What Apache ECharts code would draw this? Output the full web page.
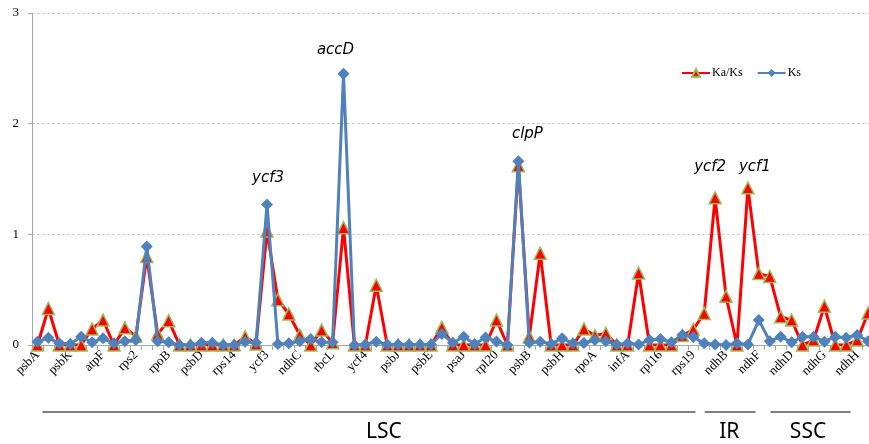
<!DOCTYPE html>
<html><head><meta charset="utf-8">
<script src="https://cdn.jsdelivr.net/npm/echarts@6/dist/echarts.min.js"></script>
<style>html,body{margin:0;padding:0;background:#fff}#c{width:869px;height:444px}</style>
</head><body><div id="c"></div>
<script>
var genes = ['psbA','matK','rps16','psbK','psbI','atpA','atpF','atpH','atpI','rps2','rpoC2','rpoC1','rpoB','petN','psbM','psbD','psbC','psbZ','rps14','psaB','psaA','ycf3','ndhJ','ndhK','ndhC','atpE','atpB','rbcL','accD','psaI','ycf4','cemA','petA','psbJ','psbL','psbF','psbE','petL','petG','psaJ','rpl33','rps18','rpl20','rps12','clpP','psbB','psbT','psbN','psbH','petB','petD','rpoA','rps11','rpl36','infA','rps8','rpl14','rpl16','rps3','rpl22','rps19','rpl2','ycf2','ndhB','rps7','ycf1','ndhF','rpl32','ccsA','ndhD','psaC','ndhE','ndhG','ndhI','ndhA','ndhH','rps15'];
var kaks = [0,0.33,0,0,0,0.145,0.225,0,0.155,0.08,0.80,0.10,0.22,0,0,0,0,0,0,0.075,0.01,1.03,0.41,0.28,0.09,0,0.135,0.02,1.06,0,0,0.54,0,0,0,0,0,0.16,0,0,0,0,0.225,0,1.62,0.075,0.83,0,0,0,0.145,0.085,0.105,0,0,0.65,0,0,0,0.085,0.14,0.285,1.33,0.44,0,1.42,0.645,0.62,0.255,0.225,0,0.045,0.35,0,0,0.045,0.29];
var ks = [0.03,0.065,0.015,0.01,0.075,0.025,0.06,0.015,0.035,0.045,0.89,0.035,0.025,0,0,0.02,0.02,0,0,0.03,0.02,1.27,0.01,0.015,0.035,0.055,0.025,0.025,2.45,0,0.005,0.03,0.005,0.005,0.005,0.005,0.005,0.10,0.02,0.075,0.01,0.068,0.032,0,1.66,0.02,0.03,0.01,0.06,0.015,0.018,0.045,0.035,0.005,0.015,0.005,0.045,0.055,0.025,0.09,0.072,0.015,0.005,0,0.015,0.005,0.225,0.035,0.075,0.025,0.075,0.075,0.03,0.075,0.066,0.09,0.035];
var yTicks = [0,1,2,3];
var highlighted = [['ycf3',21],['accD',28],['clpP',44],['ycf2',62],['ycf1',65]];
// region name, span start/end (category positions), label centre (category position)
var regions = [['LSC',0.45,60.2,31.7],['IR',61.05,65.7,63.3],['SSC',67.07,74.4,70.5]];

var chart = echarts.init(document.getElementById('c'));
var serif = '"Liberation Serif", "Times New Roman", serif';
chart.setOption({
  animation:false,
  backgroundColor:'#fff',
  grid:{left:32, top:13, height:332, width:841.6, outerBoundsMode:'none', containLabel:false},
  legend:{left:676, top:62, itemWidth:28, itemHeight:10, itemGap:14,
    textStyle:{fontFamily:serif, fontSize:12, color:'#000', padding:[0,0,0,-3]},
    data:['Ka/Ks','Ks']},
  xAxis:{type:'category', data:genes, boundaryGap:true,
    axisLine:{lineStyle:{color:'#a6a6a6'}},
    axisTick:{show:true, interval:0, length:5, lineStyle:{color:'#a6a6a6'}},
    axisLabel:{interval:2, rotate:45, margin:8, fontFamily:serif, fontSize:13, color:'#000'}},
  yAxis:{type:'value', min:0, max:3, interval:1,
    axisLine:{show:true, lineStyle:{color:'#a6a6a6'}},
    axisTick:{show:true, length:4, lineStyle:{color:'#a6a6a6'}},
    axisLabel:{margin:13, fontFamily:serif, fontSize:13, color:'#000',
      formatter:function(v){return yTicks.indexOf(v)>=0? String(v):'';}},
    splitLine:{show:true, lineStyle:{color:'#d0d0d0', type:[3,2]}}},
  series:[
    {name:'Ka/Ks', type:'line', data:kaks, symbol:'triangle', symbolSize:12, showAllSymbol:true,
      lineStyle:{color:'#ff0000', width:3}, itemStyle:{color:'#ff0000', borderColor:'#9bbb59', borderWidth:1.5}, z:2},
    {name:'Ks', type:'line', data:ks, symbol:'diamond', symbolSize:12, showAllSymbol:true,
      lineStyle:{color:'#4f81bd', width:3}, itemStyle:{color:'#4f81bd'}, z:3}
  ]
});

function posX(f){
  var i = Math.floor(f);
  var a = chart.convertToPixel({gridIndex:0}, [i, 0])[0];
  var b = chart.convertToPixel({gridIndex:0}, [i+1, 0])[0];
  return a + (f-i)*(b-a);
}
var graphics = [];
var labelOffsets = {ycf3:[1,-26], accD:[-8,-24], clpP:[9,-27], ycf2:[-5,-31], ycf1:[7,-21]};
highlighted.forEach(function(h){
  var i = h[1];
  var v = Math.max(kaks[i], ks[i]);
  var p = chart.convertToPixel({gridIndex:0}, [i, v]);
  var o = labelOffsets[h[0]];
  graphics.push({type:'text', x:p[0]+o[0], y:p[1]+o[1],
    style:{text:h[0], fontFamily:'"DejaVu Sans", sans-serif', fontStyle:'italic', fontSize:15, fill:'#000', textAlign:'center', textVerticalAlign:'middle'}});
});
regions.forEach(function(r){
  var x1 = posX(r[1]), x2 = posX(r[2]);
  graphics.push({type:'line', shape:{x1:x1, y1:412, x2:x2, y2:412}, style:{stroke:'#000', lineWidth:1}});
  graphics.push({type:'text', x:posX(r[3]), y:432,
    style:{text:r[0], fontFamily:'"Noto Sans", sans-serif', fontSize:21, fill:'#000', textAlign:'center', textVerticalAlign:'middle'}});
});
chart.setOption({graphic:graphics});
</script></body></html>
